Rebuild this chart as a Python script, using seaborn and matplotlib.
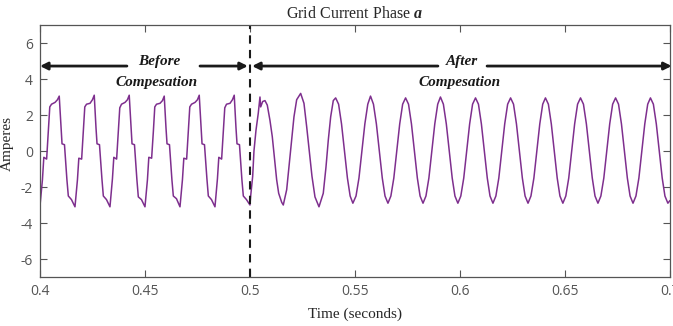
import matplotlib
matplotlib.use('Agg')
import matplotlib.pyplot as plt
import seaborn as sns
import pandas as pd

# Grid current, before compensation (time in ms, current in A), one line per cycle
t_before = [
    400.00, 401.17, 401.83, 403.17, 404.00, 404.67, 405.50, 407.17, 408.33, 409.17, 410.00, 410.50, 411.67, 412.83, 413.50, 415.00,
    416.67, 417.84, 418.50, 419.84, 420.67, 421.34, 422.17, 423.84, 425.00, 425.84, 426.67, 427.17, 428.34, 429.50, 430.17, 431.67,
    433.33, 434.50, 435.16, 436.50, 437.33, 438.00, 438.83, 440.50, 441.66, 442.50, 443.33, 443.83, 445.00, 446.16, 446.83, 448.33,
    450.00, 451.17, 451.83, 453.17, 454.00, 454.67, 455.50, 457.17, 458.33, 459.17, 460.00, 460.50, 461.67, 462.83, 463.50, 465.00,
    466.67, 467.84, 468.50, 469.84, 470.67, 471.34, 472.17, 473.84, 475.00, 475.84, 476.67, 477.17, 478.34, 479.50, 480.17, 481.67,
    483.33, 484.50, 485.16, 486.50, 487.33, 488.00, 488.83, 490.50, 491.66, 492.50, 493.33, 493.83, 495.00, 496.16, 496.83, 498.33,
]
i_before = [
    -3.05, -1.60, -0.35, -0.45, 1.15, 2.45, 2.60, 2.70, 2.85, 3.05, 1.35, 0.40, 0.35, -1.60, -2.50, -2.70,
    -3.10, -1.60, -0.40, -0.45, 1.10, 2.45, 2.60, 2.65, 2.85, 3.10, 1.30, 0.40, 0.35, -1.55, -2.50, -2.70,
    -3.10, -1.55, -0.35, -0.45, 1.15, 2.40, 2.60, 2.70, 2.85, 3.10, 1.35, 0.40, 0.35, -1.60, -2.55, -2.70,
    -3.10, -1.60, -0.35, -0.40, 1.10, 2.45, 2.60, 2.65, 2.80, 3.05, 1.30, 0.40, 0.35, -1.60, -2.50, -2.65,
    -3.10, -1.60, -0.40, -0.45, 1.15, 2.45, 2.60, 2.70, 2.85, 3.10, 1.35, 0.40, 0.35, -1.55, -2.50, -2.70,
    -3.10, -1.55, -0.35, -0.45, 1.10, 2.40, 2.60, 2.65, 2.85, 3.10, 1.30, 0.40, 0.35, -1.60, -2.50, -2.70,
]

# Grid current, after compensation (time in ms, current in A)
t_after = [
    500.00, 500.33, 501.29, 501.90, 502.86, 503.95, 504.76, 505.10, 506.05, 507.14, 508.24, 509.52,
    510.62, 511.57, 512.71, 513.67, 515.10, 515.86, 517.48, 518.71, 519.86, 520.95, 522.24,
    524.14, 525.71, 527.00, 528.24, 529.52, 530.95, 532.86, 534.90, 536.19, 537.29, 538.43, 539.67,
    540.80, 542.20, 543.60, 545.00, 546.40, 547.70, 549.00, 550.50, 551.90, 553.30, 554.70, 556.10,
    557.40, 558.80, 560.20, 561.60, 563.00, 564.30, 565.70, 567.10, 568.50, 569.90, 571.30, 572.70,
    574.10, 575.50, 576.90, 578.30, 579.70, 581.00, 582.40, 583.80, 585.20, 586.60, 588.00, 589.40,
    590.70, 592.10, 593.50, 594.90, 596.30, 597.60, 599.00, 600.40, 601.80, 603.20, 604.60, 606.00,
    607.40, 608.80, 610.20, 611.60, 613.00, 614.30, 615.70, 617.10, 618.50, 619.90, 621.30, 622.70,
    624.10, 625.50, 626.90, 628.30, 629.70, 631.00, 632.40, 633.80, 635.20, 636.60, 638.00, 639.40,
    640.70, 642.10, 643.50, 644.90, 646.30, 647.60, 649.00, 650.40, 651.80, 653.20, 654.60, 656.00,
    657.40, 658.80, 660.20, 661.60, 663.00, 664.30, 665.70, 667.10, 668.50, 669.90, 671.30, 672.70,
    674.10, 675.50, 676.90, 678.30, 679.70, 681.00, 682.40, 683.80, 685.20, 686.60, 688.00, 689.40,
    690.70, 692.10, 693.50, 694.90, 696.30, 697.60, 699.00, 700.00,
]
i_after = [
    -3.00, -2.50, -1.40, 0.00, 1.15, 2.10, 3.00, 2.45, 2.75, 2.80, 2.55, 1.70,
    0.80, -0.30, -1.60, -2.35, -2.85, -3.00, -2.15, -0.70, 0.60, 1.90, 2.85,
    3.20, 2.65, 1.35, 0.00, -1.40, -2.55, -3.10, -2.35, -0.90, 0.60, 1.90, 2.80,
    2.95, 2.60, 1.50, 0.00, -1.50, -2.50, -2.90, -2.50, -1.50, 0.00, 1.50, 2.60,
    3.05, 2.60, 1.50, 0.00, -1.50, -2.50, -2.90, -2.50, -1.50, 0.00, 1.50, 2.60,
    2.95, 2.60, 1.50, 0.00, -1.50, -2.50, -2.90, -2.50, -1.50, 0.00, 1.50, 2.60,
    3.00, 2.60, 1.50, 0.00, -1.50, -2.50, -2.90, -2.50, -1.50, 0.00, 1.50, 2.60,
    2.95, 2.60, 1.50, 0.00, -1.50, -2.50, -2.90, -2.50, -1.50, 0.00, 1.50, 2.60,
    2.95, 2.60, 1.50, 0.00, -1.50, -2.50, -2.90, -2.50, -1.50, 0.00, 1.50, 2.60,
    2.95, 2.60, 1.50, 0.00, -1.50, -2.50, -2.90, -2.50, -1.50, 0.00, 1.50, 2.60,
    2.95, 2.60, 1.50, 0.00, -1.50, -2.50, -2.90, -2.50, -1.50, 0.00, 1.50, 2.60,
    2.95, 2.60, 1.50, 0.00, -1.50, -2.50, -2.90, -2.50, -1.50, 0.00, 1.50, 2.60,
    2.95, 2.60, 1.50, 0.00, -1.50, -2.50, -2.90, -2.75,
]

x_ticks = [0.4, 0.45, 0.5, 0.55, 0.6, 0.65, 0.7]
x_tick_labels = ['0.4', '0.45', '0.5', '0.55', '0.6', '0.65', '0.7']
y_ticks = [-6, -4, -2, 0, 2, 4, 6]
y_tick_labels = ['-6', '-4', '-2', '0', '2', '4', '6']
switch_time = 0.5

sns.set_style('ticks')
plt.rcParams['mathtext.fontset'] = 'custom'
plt.rcParams['mathtext.rm'] = 'Liberation Serif'
plt.rcParams['mathtext.bfit'] = 'Liberation Serif:italic:bold'

df = pd.DataFrame({
    'Time': [t / 1000 for t in t_before + t_after],
    'Current': i_before + i_after,
})

fig = plt.figure(figsize=(6.73, 3.26), dpi=100)
ax = fig.add_axes([0.0594, 0.1503, 0.9361, 0.773])

sns.lineplot(data=df, x='Time', y='Current', sort=False, estimator=None,
             color='#7E2F8E', linewidth=1.1, ax=ax)

ax.axvline(switch_time, color='#1a1a1a', linestyle=(0, (4, 3)), linewidth=1.5)

ax.set_xlim(0.4, 0.7)
ax.set_ylim(-7, 7)
ax.set_xticks(x_ticks)
ax.set_xticklabels(x_tick_labels)
ax.set_yticks(y_ticks)
ax.set_yticklabels(y_tick_labels)

tick_font = ['Liberation Sans Narrow', 'Open Sans']
for lab in ax.get_xticklabels() + ax.get_yticklabels():
    lab.set_family(tick_font)
    lab.set_fontsize(10)
    lab.set_color('#555555')
ax.tick_params(direction='in', length=5, width=0.8, color='#555555',
               top=True, right=True, pad=5)

for sp in ax.spines.values():
    sp.set_visible(True)
    sp.set_color('#555555')
    sp.set_linewidth(0.9)

serif = 'Liberation Serif'
ax.set_title(r'Grid Current Phase $\mathbfit{a}$', family=serif, fontsize=11.5, pad=5)
ax.set_xlabel('Time (seconds)', family=serif, fontsize=11, labelpad=6)
ax.set_ylabel('Amperes', family=serif, fontsize=11)
ax.yaxis.set_label_coords(-0.042, 0.53)

# arrows marking the two intervals
arrow_y = 4.72
arrow_kw = dict(arrowstyle='-|>', color='#1a1a1a', lw=2.0, mutation_scale=11,
                shrinkA=0, shrinkB=0)
for head, tail in [(0.4, 0.4414), (0.4990, 0.4762), (0.5010, 0.5895), (0.7008, 0.6129)]:
    ax.annotate('', xy=(head, arrow_y), xytext=(tail, arrow_y),
                arrowprops=arrow_kw, annotation_clip=False)

label_kw = dict(family=serif, fontsize=11, fontweight='bold', fontstyle='italic',
                ha='center', va='center', color='#1a1a1a')
ax.text(0.4567, 5.0, 'Before', **label_kw)
ax.text(0.4556, 3.83, 'Compesation', **label_kw)
ax.text(0.6011, 5.0, 'After', **label_kw)
ax.text(0.5997, 3.83, 'Compesation', **label_kw)

fig.savefig('out.png', dpi=100)
